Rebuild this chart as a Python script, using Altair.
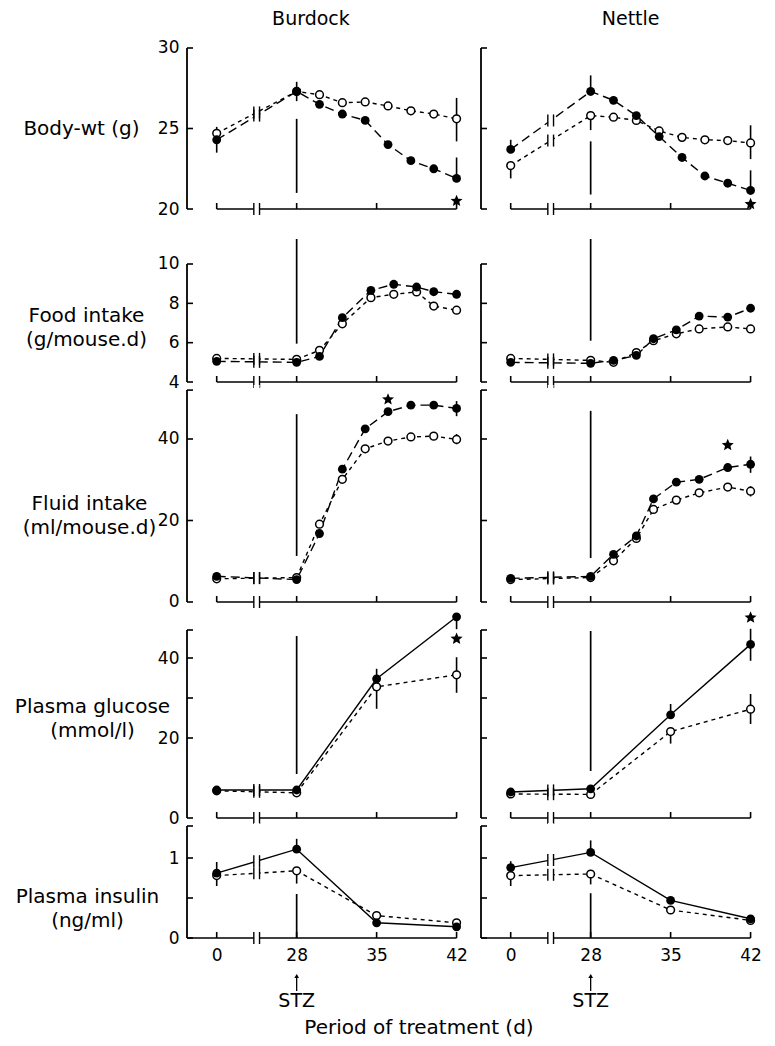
import math
import altair as alt
import pandas as pd

FONT = "DejaVu Sans"
FS = 17          # tick labels
FS_TITLE = 20    # row / axis titles
FS_HEAD = 19     # column headings

# ---------------- data ----------------
BODY_DAYS = [0, 28, 30, 32, 34, 36, 38, 40, 42]
BODY_B_FILLED = [24.3, 27.3, 26.5, 25.9, 25.5, 24.0, 23.0, 22.5, 21.9]
BODY_B_OPEN = [24.7, 27.3, 27.1, 26.6, 26.65, 26.4, 26.1, 25.9, 25.6]
BODY_N_FILLED = [23.7, 27.3, 26.75, 25.8, 24.5, 23.2, 22.05, 21.6, 21.15]
BODY_N_OPEN = [22.7, 25.8, 25.7, 25.5, 24.85, 24.45, 24.3, 24.25, 24.1]

FOOD_B_DAYS = [0, 28, 30, 32, 34.5, 36.5, 38.5, 40, 42]
FOOD_B_FILLED = [5.05, 5.0, 5.3, 7.27, 8.66, 8.97, 8.83, 8.59, 8.46]
FOOD_B_OPEN = [5.2, 5.15, 5.61, 6.96, 8.29, 8.46, 8.58, 7.86, 7.65]
FOOD_N_DAYS = [0, 28, 30, 32, 33.5, 35.5, 37.5, 40, 42]
FOOD_N_FILLED = [5.0, 4.95, 5.1, 5.35, 6.2, 6.65, 7.35, 7.3, 7.75]
FOOD_N_OPEN = [5.2, 5.1, 5.0, 5.5, 6.1, 6.45, 6.7, 6.8, 6.7]

FLUID_B_DAYS = [0, 28, 30, 32, 34, 36, 38, 40, 42]
FLUID_B_FILLED = [6.3, 5.5, 16.8, 32.6, 42.5, 46.7, 48.3, 48.3, 47.5]
FLUID_B_OPEN = [5.7, 6.0, 19.1, 30.1, 37.6, 39.5, 40.5, 40.7, 39.9]
FLUID_N_DAYS = [0, 28, 30, 32, 33.5, 35.5, 37.5, 40, 42]
FLUID_N_FILLED = [5.8, 6.3, 11.7, 16.2, 25.3, 29.4, 30.1, 33.0, 33.8]
FLUID_N_OPEN = [5.5, 6.0, 10.1, 15.6, 22.7, 25.0, 26.8, 28.2, 27.2]

GLUC_DAYS = [0, 28, 35, 42]
GLUC_B_FILLED = [7.0, 7.0, 34.8, 50.3]
GLUC_B_OPEN = [6.8, 6.3, 32.8, 35.8]
GLUC_N_FILLED = [6.5, 7.3, 25.8, 43.4]
GLUC_N_OPEN = [6.0, 5.9, 21.6, 27.2]

INS_DAYS = [0, 28, 35, 42]
INS_B_FILLED = [0.81, 1.11, 0.19, 0.14]
INS_B_OPEN = [0.78, 0.84, 0.28, 0.19]
INS_N_FILLED = [0.88, 1.07, 0.47, 0.24]
INS_N_OPEN = [0.78, 0.80, 0.35, 0.22]

# error bars: (day, low, high)
BODY_B_ERR_FILLED = [(0, 23.5, 25.1), (28, 26.7, 27.9), (42, 21.9, 23.2)]
BODY_B_ERR_OPEN = [(42, 24.2, 26.9)]
BODY_N_ERR_FILLED = [(0, 23.7, 24.3), (28, 27.3, 28.3), (42, 21.15, 22.4)]
BODY_N_ERR_OPEN = [(0, 21.9, 22.7), (28, 24.9, 25.8), (42, 23.1, 25.2)]
FLUID_B_ERR_FILLED = [(42, 45.6, 49.3)]
FLUID_B_ERR_OPEN = [(42, 38.7, 41.2)]
FLUID_N_ERR_FILLED = [(42, 31.7, 35.7)]
FLUID_N_ERR_OPEN = [(42, 25.9, 28.4)]
GLUC_B_ERR_FILLED = [(35, 34.8, 37.3), (42, 47.2, 50.3)]
GLUC_B_ERR_OPEN = [(35, 27.3, 32.8), (42, 31.3, 40.2)]
GLUC_N_ERR_FILLED = [(35, 25.8, 28.5), (42, 39.3, 47.3)]
GLUC_N_ERR_OPEN = [(35, 18.6, 21.6), (42, 23.5, 31.0)]
INS_B_ERR_FILLED = [(0, 0.65, 0.95), (28, 1.11, 1.24)]
INS_B_ERR_OPEN = [(28, 0.68, 0.84)]
INS_N_ERR_FILLED = [(0, 0.88, 0.96), (28, 1.07, 1.22)]
INS_N_ERR_OPEN = [(0, 0.65, 0.78), (28, 0.67, 0.80)]

# significance stars: (day, value)
BODY_B_STAR = [(42, 20.5)]
BODY_N_STAR = [(42, 20.3)]
FLUID_B_STAR = [(36, 49.7)]
FLUID_N_STAR = [(40, 38.5)]
GLUC_B_STAR = [(42, 44.8)]
GLUC_N_STAR = [(42, 50.1)]

# STZ marker line at day 28: (low, high)
BODY_B_STZ = (21.0, 25.6)
BODY_N_STZ = (20.9, 24.2)
FOOD_B_STZ = (5.95, 11.27)
FOOD_N_STZ = (6.1, 11.27)
FLUID_B_STZ = (11.3, 46.1)
FLUID_N_STZ = (10.8, 46.9)
GLUC_B_STZ = (11.0, 45.5)
GLUC_N_STZ = (11.75, 46.75)
INS_B_STZ = (0.0, 0.55)
INS_N_STZ = (0.0, 0.56)

X_TICK_DAYS = [0, 28, 35, 42]

# ---------------- layout / styles ----------------
XMIN, XMAX = 18.4, 43.0
W = 281
BREAK_A, BREAK_B = 24.25, 24.75
LONG_DASH = [9, 5]
SHORT_DASH = [4, 4]

ROWS = [
    dict(title=["Body-wt (g)"], domain=[19.255, 30.683], height=184,
         ticks=[20, 25, 30], labels=[20, 25, 30], bracket=(20, 30),
         fdash=LONG_DASH, tx=-106, ty=91),
    dict(title=["Food intake", "(g/mouse.d)"], domain=[3.848, 12.186], height=164,
         ticks=[4, 6, 8, 10], labels=[4, 6, 8, 10], bracket=(4, 10),
         fdash=LONG_DASH, tx=-101, ty=94),
    dict(title=["Fluid intake", "(ml/mouse.d)"], domain=[-2.70, 53.25], height=228,
         ticks=[0, 20, 40], labels=[0, 20, 40], bracket=(0, 52),
         fdash=LONG_DASH, tx=-98, ty=118),
    dict(title=["Plasma glucose", "(mmol/l)"], domain=[-1.25, 51.25], height=210,
         ticks=[0, 20, 30, 40], labels=[0, 20, 40], bracket=(0, 47),
         fdash=None, tx=-95, ty=93),
    dict(title=["Plasma insulin", "(ng/ml)"], domain=[-0.0375, 1.4375], height=118,
         ticks=[0, 0.5, 1], labels=[0, 1], bracket=(0, 1.4),
         fdash=None, tx=-100, ty=73),
]

PANELS = [
    [dict(days=BODY_DAYS, filled=BODY_B_FILLED, open=BODY_B_OPEN, ef=BODY_B_ERR_FILLED,
          eo=BODY_B_ERR_OPEN, star=BODY_B_STAR, stz=BODY_B_STZ),
     dict(days=BODY_DAYS, filled=BODY_N_FILLED, open=BODY_N_OPEN, ef=BODY_N_ERR_FILLED,
          eo=BODY_N_ERR_OPEN, star=BODY_N_STAR, stz=BODY_N_STZ)],
    [dict(days=FOOD_B_DAYS, filled=FOOD_B_FILLED, open=FOOD_B_OPEN, ef=[], eo=[],
          star=[], stz=FOOD_B_STZ),
     dict(days=FOOD_N_DAYS, filled=FOOD_N_FILLED, open=FOOD_N_OPEN, ef=[], eo=[],
          star=[], stz=FOOD_N_STZ)],
    [dict(days=FLUID_B_DAYS, filled=FLUID_B_FILLED, open=FLUID_B_OPEN, ef=FLUID_B_ERR_FILLED,
          eo=FLUID_B_ERR_OPEN, star=FLUID_B_STAR, stz=FLUID_B_STZ),
     dict(days=FLUID_N_DAYS, filled=FLUID_N_FILLED, open=FLUID_N_OPEN, ef=FLUID_N_ERR_FILLED,
          eo=FLUID_N_ERR_OPEN, star=FLUID_N_STAR, stz=FLUID_N_STZ)],
    [dict(days=GLUC_DAYS, filled=GLUC_B_FILLED, open=GLUC_B_OPEN, ef=GLUC_B_ERR_FILLED,
          eo=GLUC_B_ERR_OPEN, star=GLUC_B_STAR, stz=GLUC_B_STZ),
     dict(days=GLUC_DAYS, filled=GLUC_N_FILLED, open=GLUC_N_OPEN, ef=GLUC_N_ERR_FILLED,
          eo=GLUC_N_ERR_OPEN, star=GLUC_N_STAR, stz=GLUC_N_STZ)],
    [dict(days=INS_DAYS, filled=INS_B_FILLED, open=INS_B_OPEN, ef=INS_B_ERR_FILLED,
          eo=INS_B_ERR_OPEN, star=[], stz=INS_B_STZ),
     dict(days=INS_DAYS, filled=INS_N_FILLED, open=INS_N_OPEN, ef=INS_N_ERR_FILLED,
          eo=INS_N_ERR_OPEN, star=[], stz=INS_N_STZ)],
]

COL_TITLES = [("Burdock", 29.25), ("Nettle", 31.5)]


def star_path():
    pts = []
    for k in range(10):
        ang = math.radians(-90 + 36 * k)
        r = 1.0 if k % 2 == 0 else 0.45
        pts.append(f"{r * math.cos(ang):.3f},{r * math.sin(ang):.3f}")
    return "M" + " L".join(pts) + " Z"


STAR = star_path()


def xpos(day):
    # broken axis: day 0 drawn one week before day 28
    return day if day >= 28 else 21 + day / 4.0


def panel(row, d, col, bottom, top):
    xs = alt.Scale(domain=[XMIN, XMAX], nice=False, zero=False)
    ys = alt.Scale(domain=row["domain"], nice=False, zero=False)
    if bottom:
        xaxis = alt.Axis(values=[xpos(t) for t in X_TICK_DAYS], format="d",
                         labelExpr="datum.value == 21 ? '0' : datum.label",
                         ticks=False, domain=False, grid=False, labelPadding=6,
                         labelFont=FONT, labelFontSize=FS, labelColor="black",
                         title=None)
    else:
        xaxis = None
    if col == 0:
        yaxis = alt.Axis(values=row["labels"], format="d", ticks=False, domain=False,
                         grid=False, labelPadding=8, labelFont=FONT, labelFontSize=FS,
                         labelColor="black", title=row["title"], titleAngle=0,
                         titleAlign="center", titleBaseline="middle",
                         titleX=row["tx"], titleY=row["ty"], titleFont=FONT,
                         titleFontSize=FS_TITLE, titleFontWeight="normal",
                         titleColor="black", titleLineHeight=24)
    else:
        yaxis = None

    def X(f):
        return alt.X(f, type="quantitative", scale=xs, axis=xaxis)

    def Y(f):
        return alt.Y(f, type="quantitative", scale=ys, axis=yaxis)

    layers = []
    px = [xpos(t) for t in d["days"]]
    # series lines
    for key, dash in (("open", SHORT_DASH), ("filled", row["fdash"])):
        df = pd.DataFrame({"p": px, "v": d[key]})
        kw = dict(color="black", strokeWidth=1.4)
        if dash:
            kw["strokeDash"] = dash
        layers.append(alt.Chart(df).mark_line(**kw).encode(x=X("p"), y=Y("v"), order="p:Q"))

    blo, bhi = row["bracket"]
    # x axis line
    xstart = XMIN if bottom else 21
    df = pd.DataFrame({"a": [xstart], "b": [42], "v": [blo]})
    layers.append(alt.Chart(df).mark_rule(color="black", strokeWidth=1.7)
                  .encode(x=X("a"), x2="b", y=Y("v")))
    # white gap for axis break
    df = pd.DataFrame({"a": [BREAK_A], "b": [BREAK_B], "lo": [row["domain"][0]],
                       "hi": [row["domain"][1]]})
    layers.append(alt.Chart(df).mark_rect(color="white")
                  .encode(x=X("a"), x2="b", y=Y("lo"), y2="hi"))
    # break bars on the lines and on the axis
    mids = [(d["filled"][0] + d["filled"][1]) / 2, (d["open"][0] + d["open"][1]) / 2, blo]
    df = pd.DataFrame({"p": [BREAK_A, BREAK_B] * 3,
                       "v": [mids[0]] * 2 + [mids[1]] * 2 + [mids[2]] * 2})
    layers.append(alt.Chart(df).mark_rule(color="black", strokeWidth=1.4,
                                          yOffset=-6, y2Offset=6)
                  .encode(x=X("p"), y=Y("v"), y2="v"))
    # x ticks (pointing up)
    df = pd.DataFrame({"p": [xpos(t) for t in X_TICK_DAYS], "v": [blo] * 4})
    layers.append(alt.Chart(df).mark_rule(color="black", strokeWidth=1.6, y2Offset=-6)
                  .encode(x=X("p"), y=Y("v"), y2="v"))
    # y axis bracket
    df = pd.DataFrame({"p": [XMIN], "lo": [blo], "hi": [bhi]})
    layers.append(alt.Chart(df).mark_rule(color="black", strokeWidth=1.8)
                  .encode(x=X("p"), y=Y("lo"), y2="hi"))
    tv = sorted(set(row["ticks"]) | {blo, bhi})
    df = pd.DataFrame({"p": [XMIN] * len(tv), "v": tv})
    layers.append(alt.Chart(df).mark_rule(color="black", strokeWidth=1.6, x2Offset=6)
                  .encode(x=X("p"), x2="p", y=Y("v")))
    # STZ line
    df = pd.DataFrame({"p": [28], "lo": [d["stz"][0]], "hi": [d["stz"][1]]})
    layers.append(alt.Chart(df).mark_rule(color="black", strokeWidth=1.7)
                  .encode(x=X("p"), y=Y("lo"), y2="hi"))
    # error bars
    errs = d["ef"] + d["eo"]
    if errs:
        df = pd.DataFrame({"p": [xpos(e[0]) for e in errs], "lo": [e[1] for e in errs],
                           "hi": [e[2] for e in errs]})
        layers.append(alt.Chart(df).mark_rule(color="black", strokeWidth=1.6)
                      .encode(x=X("p"), y=Y("lo"), y2="hi"))
    # points
    df = pd.DataFrame({"p": px, "v": d["open"]})
    layers.append(alt.Chart(df).mark_point(shape="circle", filled=True, fill="white",
                                           stroke="black", strokeWidth=1.5, size=60,
                                           opacity=1)
                  .encode(x=X("p"), y=Y("v")))
    df = pd.DataFrame({"p": px, "v": d["filled"]})
    layers.append(alt.Chart(df).mark_point(shape="circle", filled=True, color="black",
                                           size=78, opacity=1)
                  .encode(x=X("p"), y=Y("v")))
    if d["star"]:
        df = pd.DataFrame({"p": [xpos(s[0]) for s in d["star"]],
                           "v": [s[1] for s in d["star"]]})
        layers.append(alt.Chart(df).mark_point(shape=STAR, filled=True, color="black",
                                               size=160, opacity=1)
                      .encode(x=X("p"), y=Y("v")))
    # column title
    if top:
        name, pos = COL_TITLES[col]
        df = pd.DataFrame({"p": [pos], "t": [name]})
        layers.append(alt.Chart(df).mark_text(font=FONT, fontSize=FS_HEAD, color="black",
                                              baseline="middle", align="center")
                      .encode(x=X("p"), y=alt.value(-18), text="t:N"))
    if bottom:
        df = pd.DataFrame({"p": [28], "t": ["STZ"]})
        layers.append(alt.Chart(df).mark_text(font=FONT, fontSize=FS_HEAD, color="black",
                                              baseline="middle", align="center")
                      .encode(x=X("p"), y=alt.value(178), text="t:N"))
        df = pd.DataFrame({"p": [28]})
        layers.append(alt.Chart(df).mark_rule(color="black", strokeWidth=1.3)
                      .encode(x=X("p"), y=alt.value(152), y2=alt.value(168)))
        layers.append(alt.Chart(df).mark_point(shape="triangle-up", filled=True,
                                               color="black", size=22, opacity=1)
                      .encode(x=X("p"), y=alt.value(153)))
        if col == 0:
            df = pd.DataFrame({"t": ["Period of treatment (d)"]})
            layers.append(alt.Chart(df).mark_text(font=FONT, fontSize=FS_TITLE, color="black",
                                                  baseline="middle", align="center")
                          .encode(x=alt.value(232), y=alt.value(205), text="t:N"))
    return alt.layer(*layers).properties(width=W, height=row["height"])


cells = []
for i, row in enumerate(ROWS):
    for c in range(2):
        cells.append(panel(row, PANELS[i][c], c, i == len(ROWS) - 1, i == 0))

chart = (alt.concat(*cells, columns=2, spacing={"row": 0, "column": 13}, bounds="flush")
         .resolve_scale(x="independent", y="independent")
         .properties(padding={"left": 6, "top": 2, "right": 5, "bottom": 5})
         .configure(font=FONT)
         .configure_view(strokeWidth=0))

chart.save("out.html", embed_options={"renderer": "svg", "actions": False})
